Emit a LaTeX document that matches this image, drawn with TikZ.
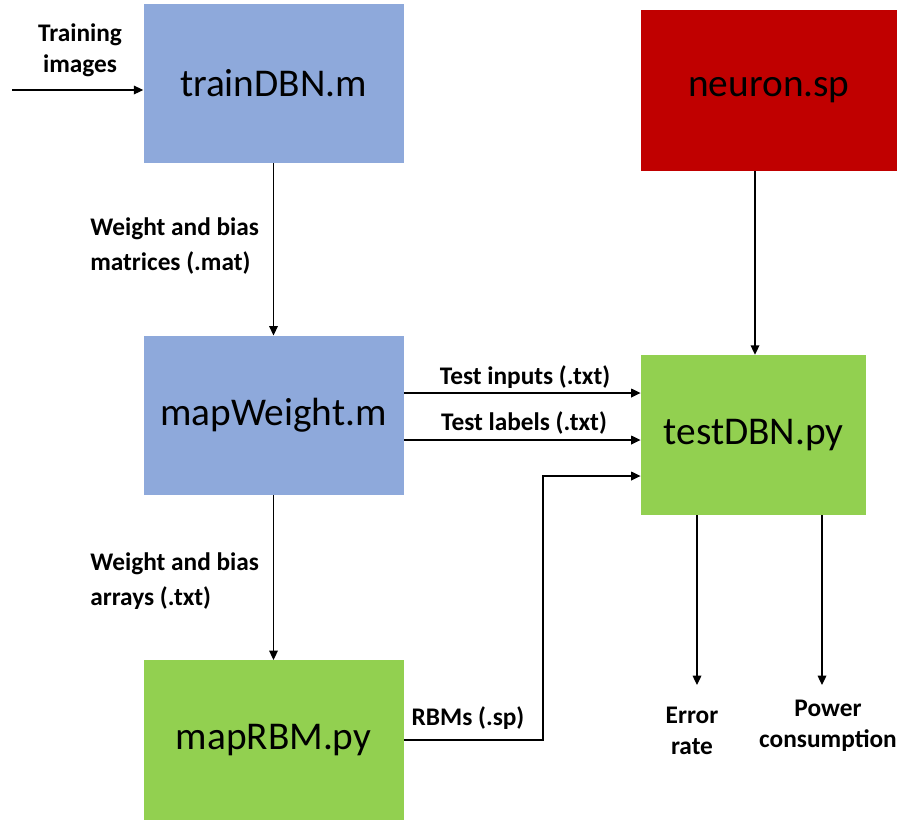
\documentclass[tikz,border=0pt]{standalone}
\usepackage{fontspec}
\setmainfont{Carlito}
\usepackage{xcolor}
\usepackage{tikz}
\usetikzlibrary{arrows.meta,positioning,calc}

\definecolor{fileblue}{HTML}{8EA9DB}
\definecolor{filered}{HTML}{C00000}
\definecolor{filegreen}{HTML}{92D050}

\begin{document}
\begin{tikzpicture}[
    x=0.75pt, y=-0.75pt,
    node distance=129pt and 178pt,
    box/.style={rectangle, draw=none, minimum width=195pt, minimum height=119.5pt, inner sep=0pt, font=\fontsize{29.5}{33}\selectfont, align=center},
    lbl/.style={font=\bfseries\fontsize{19}{23}\selectfont, inner sep=0pt},
    arrow/.style={-{Triangle[length=7pt,width=6.5pt]}, line width=0.9pt}
]
    \useasboundingbox (0,0) rectangle (897,819);

    \node[box, fill=fileblue] (train) at (273.5,83.5) {trainDBN.m};
    \node[box, fill=fileblue, below=of train] (mapw) {mapWeight.m};
    \node[box, fill=filegreen, below=123.5pt of mapw] (maprbm) {mapRBM.py};

    \node[box, fill=filered, minimum width=192pt, minimum height=120.5pt] (neuron) at (769,90.5) {neuron.sp};
    \node[box, fill=filegreen, minimum width=169pt, minimum height=120pt] (test) at (753.5,435) {testDBN.py};

    % labels
    \node[lbl, align=center] (trainlbl) at (80,50) {Training\\images};
    \node[lbl, align=left, anchor=west, font=\bfseries\fontsize{19}{26}\selectfont] (matlbl) at (90,246) {Weight and bias\\matrices (.mat)};
    \node[lbl, align=left, anchor=west, font=\bfseries\fontsize{19}{26}\selectfont] (txtlbl) at (90,581) {Weight and bias\\arrays (.txt)};
    \node[lbl] (inlbl) at (525,377) {Test inputs (.txt)};
    \node[lbl] (lablbl) at (524,423) {Test labels (.txt)};
    \node[lbl] (rbmlbl) at (468,718) {RBMs (.sp)};
    \node[lbl, align=center] (errlbl) at (692,731) {Error\\rate};
    \node[lbl, align=center] (powlbl) at (828,726) {Power\\consumption};

    \coordinate (imgin) at (12,90);
    \coordinate (bend) at (543,476);
    \coordinate (errpt) at (697,685);
    \coordinate (powpt) at (822,685);

    \draw[arrow] (imgin) -- (imgin -| train.west);
    \draw[arrow] (train) -- (mapw);
    \draw[arrow] (mapw) -- (maprbm);
    \draw[arrow] (neuron.south -| 755,0) -- (test.north -| 755,0);

    \draw[arrow] (mapw.east |- 0,393) -- (test.west |- 0,393);
    \draw[arrow] (mapw.east |- 0,440) -- (test.west |- 0,440);
    \draw[arrow] (maprbm.east) -| (bend) -- (bend -| test.west);

    \draw[arrow] (test.south -| errpt) -- (errpt);
    \draw[arrow] (test.south -| powpt) -- (powpt);

\end{tikzpicture}
\end{document}
